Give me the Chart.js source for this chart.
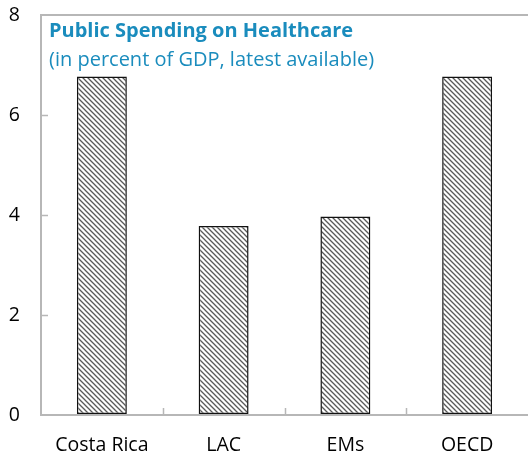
<!DOCTYPE html>
<html>
<head>
<meta charset="utf-8">
<script src="https://cdn.jsdelivr.net/npm/chart.js@4"></script>
<style>
  html, body { margin: 0; padding: 0; background: #fff; }
  #wrap { width: 528px; height: 462px; }
</style>
</head>
<body>
<div id="wrap"><canvas id="chart-canvas"></canvas></div>
<script>
// data
const categories = ['Costa Rica', 'LAC', 'EMs', 'OECD'];
const spending = [6.77, 3.78, 3.97, 6.77];
const yTicks = [0, 2, 4, 6, 8];
const titleText = 'Public Spending on Healthcare';
const subtitleText = '(in percent of GDP, latest available)';

const FONT = "'Open Sans', 'Noto Sans', sans-serif";
const AXIS_GRAY = '#b7b7b7';

// diagonal hatch fill like the original bars
function makeHatch() {
    const s = 5;
    const c = document.createElement('canvas');
    c.width = s; c.height = s;
    const g = c.getContext('2d');
    g.fillStyle = '#ffffff';
    g.fillRect(0, 0, s, s);
    g.strokeStyle = '#5a5a5a';
    g.lineWidth = 1.3;
    g.beginPath();
    g.moveTo(-1, -1); g.lineTo(s + 1, s + 1);
    g.moveTo(-1, s - 1); g.lineTo(1, s + 1);
    g.moveTo(s - 1, -1); g.lineTo(s + 1, 1);
    g.stroke();
    return g.createPattern(c, 'repeat');
}

// inward tick marks + title drawn inside the plot frame
const extras = {
    id: 'extras',
    afterDraw(chart) {
        const ctx = chart.ctx;
        const area = chart.chartArea;
        const x = chart.scales.x, y = chart.scales.y;
        ctx.save();
        ctx.strokeStyle = AXIS_GRAY;
        ctx.lineWidth = 1.5;
        ctx.beginPath();
        yTicks.forEach(function(v) {
            if (v === 0 || v === 8) return;
            const py = Math.round(y.getPixelForValue(v)) + 0.5;
            ctx.moveTo(area.left, py);
            ctx.lineTo(area.left + 7, py);
        });
        for (let i = 0; i < categories.length - 1; i++) {
            const px = Math.round((x.getPixelForValue(i) + x.getPixelForValue(i + 1)) / 2) + 0.5;
            ctx.moveTo(px, area.bottom);
            ctx.lineTo(px, area.bottom - 7);
        }
        ctx.stroke();

        ctx.fillStyle = '#1a8cbd';
        ctx.textBaseline = 'alphabetic';
        ctx.font = 'bold 20px ' + FONT;
        ctx.fillText(titleText, area.left + 8, area.top + 22);
        ctx.font = '20px ' + FONT;
        ctx.fillText(subtitleText, area.left + 8, area.top + 51);
        ctx.restore();
    }
};

document.addEventListener('DOMContentLoaded', function() {
    var ctx = document.getElementById('chart-canvas');
    new Chart(ctx, {
        type: 'bar',
        data: {
            labels: categories,
            datasets: [{
                data: spending,
                backgroundColor: makeHatch(),
                borderColor: '#111111',
                borderWidth: 1.5,
                borderSkipped: false,
                categoryPercentage: 1,
                barPercentage: 0.41
            }]
        },
        options: {
            responsive: true,
            maintainAspectRatio: false,
            animation: false,
            layout: { padding: { top: 15, right: 0, left: 0, bottom: 0 } },
            plugins: {
                legend: { display: false },
                tooltip: { enabled: false }
            },
            scales: {
                x: {
                    grid: { display: false, drawTicks: false },
                    border: { display: true, color: AXIS_GRAY, width: 2 },
                    ticks: {
                        color: '#000',
                        font: { family: FONT, size: 19.5 },
                        padding: 19,
                        maxRotation: 0
                    },
                    afterFit: function(scale) {
                        scale.height = 47;
                        scale.paddingLeft = 0; scale.paddingRight = 0;
                    }
                },
                y: {
                    min: 0,
                    max: 8,
                    afterBuildTicks: function(scale) {
                        scale.ticks = yTicks.map(function(v) { return { value: v }; });
                    },
                    grid: {
                        drawTicks: false,
                        lineWidth: 2,
                        color: function(c) { return c.tick && c.tick.value === 8 ? AXIS_GRAY : 'rgba(0,0,0,0)'; }
                    },
                    border: { display: true, color: AXIS_GRAY, width: 2 },
                    ticks: {
                        color: '#000',
                        font: { family: FONT, size: 19.5 },
                        padding: 21
                    },
                    afterFit: function(scale) {
                        scale.width = 41;
                        scale.paddingTop = 0; scale.paddingBottom = 0;
                    }
                }
            }
        },
        plugins: [extras]
    });
});
</script>
</body>
</html>
